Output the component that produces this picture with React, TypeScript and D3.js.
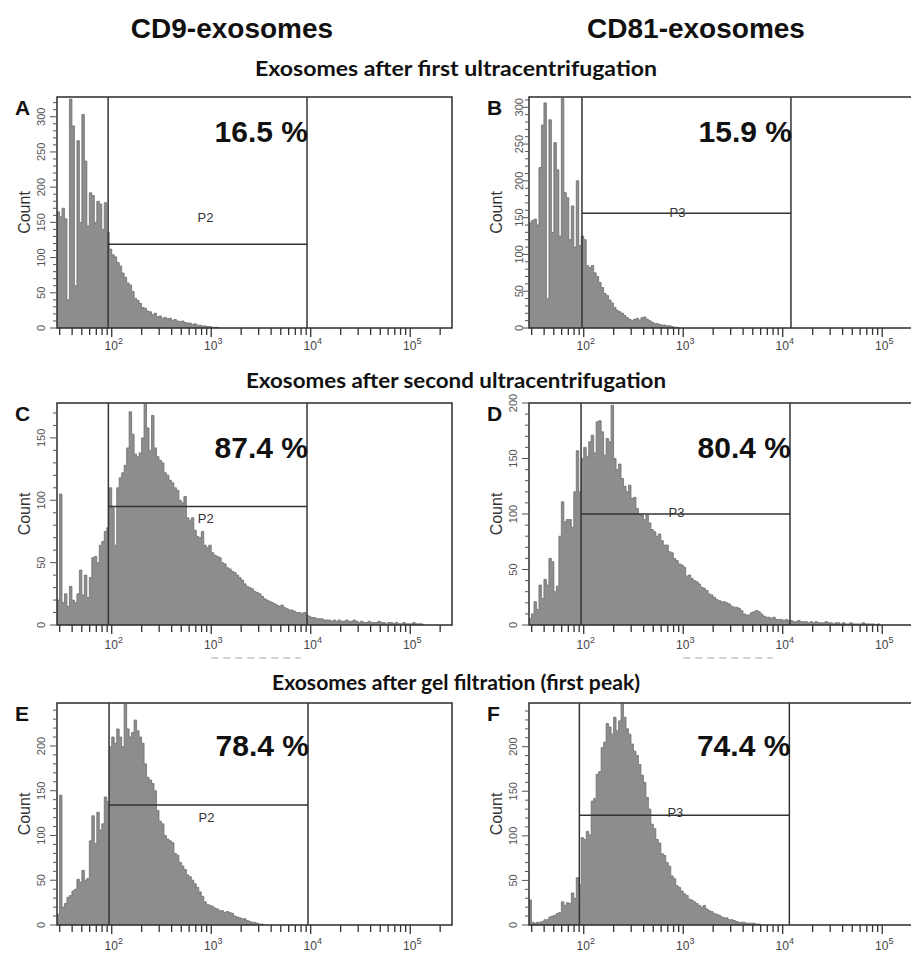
import * as d3 from "d3";

// histogram bins: log10 channel from LOG_MIN in BIN_STEP steps
const LOG_MIN = 1.45;
const LOG_MAX = 5.42;
const BIN_STEP = 0.025;

const A_COUNTS = [
  165, 158, 170, 155, 40, 325, 287, 60, 266, 150, 303, 237, 145, 192, 188, 150, 180, 176, 140, 178, 136,
  112, 104, 101, 93, 88, 78, 72, 64, 61, 52, 42, 39, 35, 29, 28, 24, 23, 19, 21, 16, 17, 14, 15, 13, 14,
  11, 12, 10, 9, 10, 8, 7, 7, 5, 6, 4, 4, 3, 3, 2, 2, 1, 1, 1,
];
const B_COUNTS = [
  143, 146, 148, 140, 218, 276, 306, 40, 283, 130, 252, 215, 125, 312, 184, 177, 120, 166, 110, 200, 112,
  125, 120, 85, 82, 85, 75, 70, 62, 55, 47, 44, 38, 34, 28, 24, 22, 20, 17, 14, 12, 10, 12, 13, 11, 14,
  15, 12, 10, 8, 6, 6, 5, 4, 4, 3, 3, 2, 1, 1,
];
const C_COUNTS = [
  20, 105, 18, 25, 15, 31, 20, 18, 25, 44, 24, 40, 22, 38, 54, 55, 50, 64, 67, 75,
  78, 110, 94, 64, 110, 118, 122, 128, 142, 171, 153, 137, 135, 138, 150, 177, 158, 140, 168, 142,
  135, 132, 130, 122, 120, 116, 114, 110, 108, 100, 98, 103, 86, 84, 86, 76, 71, 70, 75, 64,
  62, 64, 58, 56, 55, 54, 50, 49, 46, 45, 43, 42, 40, 38, 36, 33, 31, 30, 29, 27,
  26, 25, 23, 21, 20, 19, 18, 17, 16, 15, 16, 14, 13, 12, 12, 11, 10, 10, 9, 10,
  8, 7, 6, 6, 5, 5, 5, 4, 4, 4, 3, 4, 3, 4, 3, 3, 4, 3, 3, 4,
  3, 2, 3, 2, 2, 3, 2, 2, 2, 3, 2, 2, 1, 2, 2, 1, 2, 1, 1, 2, 1, 1, 1, 2, 1, 1, 1,
];
const D_COUNTS = [
  6, 10, 21, 14, 36, 24, 41, 36, 60, 57, 30, 35, 80, 111, 93, 95, 95, 88, 120, 157,
  120, 150, 160, 152, 165, 171, 155, 183, 184, 174, 153, 168, 165, 198, 150, 140, 145, 132, 125, 120,
  126, 114, 115, 105, 100, 99, 95, 99, 92, 86, 84, 80, 82, 76, 72, 72, 66, 65, 60, 58,
  55, 54, 52, 44, 45, 42, 40, 39, 37, 34, 33, 31, 28, 27, 25, 23, 22, 21, 21, 20,
  19, 17, 16, 16, 15, 13, 10, 9, 9, 11, 12, 13, 12, 10, 8, 7, 7, 6, 7, 5,
  5, 5, 4, 5, 4, 4, 3, 3, 4, 3, 3, 3, 2, 3, 2, 3, 2, 2, 2, 3,
  2, 2, 1, 2, 2, 1, 2, 1, 1, 2, 1, 1, 1, 1, 2, 1, 1, 1, 1, 0, 1,
];
const E_COUNTS = [
  12, 145, 20, 24, 31, 33, 38, 40, 51, 48, 61, 50, 52, 94, 122, 91, 126, 106, 113, 143,
  138, 199, 210, 203, 219, 210, 199, 247, 219, 210, 215, 229, 217, 210, 203, 180, 165, 162, 158, 150,
  128, 116, 113, 100, 96, 94, 92, 80, 78, 70, 66, 62, 56, 54, 50, 46, 42, 37, 32, 26,
  23, 22, 21, 19, 18, 16, 16, 14, 15, 14, 13, 10, 9, 8, 7, 7, 5, 4, 3, 3, 2, 1, 1,
];
const F_COUNTS = [
  28, 3, 2, 3, 3, 4, 6, 6, 9, 10, 11, 13, 14, 26, 22, 25, 24, 36, 30, 53,
  45, 98, 96, 105, 101, 139, 142, 169, 172, 199, 205, 226, 222, 214, 233, 218, 229, 248, 233, 220,
  214, 203, 195, 190, 180, 168, 160, 143, 130, 113, 108, 96, 92, 80, 78, 70, 66, 55, 52, 44,
  42, 38, 35, 33, 29, 28, 26, 24, 22, 20, 22, 18, 16, 15, 13, 12, 11, 9, 8, 8,
  6, 6, 5, 4, 3, 3, 3, 2, 2, 2, 2, 1, 1,
];

const PANEL_COUNTS = [A_COUNTS, B_COUNTS, C_COUNTS, D_COUNTS, E_COUNTS, F_COUNTS];
const PANEL_LETTERS = ["A", "B", "C", "D", "E", "F"];
const PERCENTS = ["16.5 %", "15.9 %", "87.4 %", "80.4 %", "78.4 %", "74.4 %"];
const GATE_NAMES = ["P2", "P3", "P2", "P3", "P2", "P3"];
const GATE_LOW = [92, 96, 92.5, 94, 94, 90.4];
const GATE_HIGH = [9180, 12100, 9180, 11830, 9390, 11660];
const GATE_LEVEL = [119, 156, 95, 100, 134, 123];
const Y_MAX = [328, 314, 178, 200, 248, 249];
const Y_LABEL_TOP = [300, 300, 150, 200, 200, 200];
const X_EXPONENTS = [2, 3, 4, 5];

const COLUMN_TITLES = ["CD9-exosomes", "CD81-exosomes"];
const ROW_TITLES = [
  "Exosomes after first ultracentrifugation",
  "Exosomes after second ultracentrifugation",
  "Exosomes after gel filtration (first peak)",
];

// layout
const W = 911;
const H = 954;
const PANEL_W = 395;
const COL_X = [57, 529];
const ROW_Y = [97, 403, 703];
const ROW_H = [231, 222, 222];
const PCT_DY = [45, 55, 53];
const XLAB_DY = [22, 24, 25];
const GATE_LABEL_DY = [-22, 4, 16, 3, 17, 2];
const YLAB_GAP = [16, 10, 16, 16, 16, 16];
const COL_TITLE_X = [232, 696];
const ROW_TITLE_Y = [76, 388, 690];
const ROW_TITLE_LEN = [402, 420, 368];

const ARIAL = "'Liberation Sans', Arial, sans-serif";
const CALIBRI = "Lato, 'Open Sans', sans-serif";
const FILL = "#8d8d8d";
const OUTLINE = "#6f6f6f";

function Panel({ idx }: { idx: number }) {
  const col = idx % 2;
  const row = Math.floor(idx / 2);
  const x0 = COL_X[col];
  const top = ROW_Y[row];
  const h = ROW_H[row];
  const bottom = top + h;
  const counts = PANEL_COUNTS[idx];

  const x = d3.scaleLog().domain([10 ** LOG_MIN, 10 ** LOG_MAX]).range([x0, x0 + PANEL_W]);
  const y = d3.scaleLinear().domain([0, Y_MAX[idx]]).range([bottom, top]);

  const pts: [number, number][] = counts.map((c, k) => [10 ** (LOG_MIN + k * BIN_STEP), c]);
  pts.push([10 ** (LOG_MIN + counts.length * BIN_STEP), 0]);

  const area = d3
    .area<[number, number]>()
    .x((d) => x(d[0]))
    .y0(y(0))
    .y1((d) => y(d[1]))
    .curve(d3.curveStepAfter);
  const line = d3
    .line<[number, number]>()
    .x((d) => x(d[0]))
    .y((d) => y(d[1]))
    .curve(d3.curveStepAfter);

  const xTicks = x.ticks().filter((t) => t >= 10 ** LOG_MIN && t <= 10 ** LOG_MAX);
  const yTicks = d3.range(0, Y_MAX[idx] + 0.1, 10);
  const yLabels = d3.range(0, Y_LABEL_TOP[idx] + 1, 50);

  const gx1 = x(GATE_LOW[idx]);
  const gx2 = x(GATE_HIGH[idx]);
  const gy = y(GATE_LEVEL[idx]);
  const clipId = `clip-${idx}`;

  return (
    <g>
      <defs>
        <clipPath id={clipId}>
          <rect x={x0} y={top} width={PANEL_W} height={h} />
        </clipPath>
      </defs>
      <g clipPath={`url(#${clipId})`}>
        <path d={area(pts) ?? ""} fill={FILL} />
        <path d={line(pts) ?? ""} fill="none" stroke={OUTLINE} strokeWidth={0.8} />
      </g>

      {/* frame */}
      <rect x={x0} y={top} width={PANEL_W} height={h} fill="none" stroke="#2b2b2b" strokeWidth={1.5} />

      {/* gate */}
      <line x1={gx1} x2={gx1} y1={top} y2={bottom} stroke="#333" strokeWidth={1.5} />
      <line x1={gx2} x2={gx2} y1={top} y2={bottom} stroke="#333" strokeWidth={1.5} />
      <line x1={gx1} x2={gx2} y1={gy} y2={gy} stroke="#333" strokeWidth={1.5} />
      <text
        x={(gx1 + gx2) / 2 - (col ? 9 : 2)}
        y={gy + GATE_LABEL_DY[idx]}
        textAnchor="middle"
        fontFamily={ARIAL}
        fontSize={13}
        fill="#333"
      >
        {GATE_NAMES[idx]}
      </text>

      {/* percentage */}
      <text
        x={gx2 + 1}
        y={top + PCT_DY[row]}
        textAnchor="end"
        fontFamily={ARIAL}
        fontWeight="bold"
        fontSize={30}
        fill="#111"
      >
        {PERCENTS[idx]}
      </text>

      {/* x axis ticks */}
      {xTicks.map((t) => {
        const major = Math.abs(Math.log10(t) - Math.round(Math.log10(t))) < 1e-9;
        return (
          <line
            key={t}
            x1={x(t)}
            x2={x(t)}
            y1={bottom}
            y2={bottom + (major ? 9 : 7)}
            stroke="#333"
            strokeWidth={1.3}
          />
        );
      })}
      {X_EXPONENTS.map((e) => (
        <text
          key={e}
          x={x(10 ** e) + 2}
          y={bottom + XLAB_DY[row]}
          textAnchor="middle"
          fontFamily={ARIAL}
          fontSize={12}
          fill="#444"
        >
          10
          <tspan dy={-6} fontSize={9}>
            {e}
          </tspan>
        </text>
      ))}

      {/* y axis ticks */}
      {yTicks.map((t) => (
        <line
          key={t}
          x1={x0}
          x2={x0 - (t % 50 === 0 ? 7 : 4)}
          y1={y(t)}
          y2={y(t)}
          stroke="#555"
          strokeWidth={1}
        />
      ))}
      {yLabels.map((t) => (
        <text
          key={t}
          transform={`translate(${x0 - YLAB_GAP[idx] + 4},${y(t)}) rotate(-90)`}
          textAnchor="middle"
          fontFamily={ARIAL}
          fontSize={11}
          fill="#555"
        >
          {t}
        </text>
      ))}
      <text
        transform={`translate(${x0 - 27},${(top + bottom) / 2}) rotate(-90)`}
        textAnchor="middle"
        fontFamily={ARIAL}
        fontSize={16}
        fill="#333"
      >
        Count
      </text>

      {/* panel letter */}
      <text x={x0 - 42} y={top + 18} fontFamily={ARIAL} fontWeight="bold" fontSize={21} fill="#111">
        {PANEL_LETTERS[idx]}
      </text>

      {/* cut-off axis title remnant under the middle row */}
      {row === 1 && (
        <line
          x1={x(10 ** 3.0)}
          x2={x(10 ** 3.9)}
          y1={bottom + 33}
          y2={bottom + 33}
          stroke="#c4c4c4"
          strokeWidth={1.5}
          strokeDasharray="7,5"
        />
      )}
    </g>
  );
}

export default function App() {
  return (
    <svg
      width={W}
      height={H}
      viewBox={`0 0 ${W} ${H}`}
      style={{ position: "absolute", left: 0, top: 0, background: "#fff" }}
    >
      <rect width={W} height={H} fill="#fff" />
      {COLUMN_TITLES.map((t, i) => (
        <text
          key={t}
          x={COL_TITLE_X[i]}
          y={38}
          textAnchor="middle"
          fontFamily={ARIAL}
          fontWeight="bold"
          fontSize={28}
          fill="#111"
        >
          {t}
        </text>
      ))}
      {ROW_TITLES.map((t, i) => (
        <text
          key={t}
          x={456}
          y={ROW_TITLE_Y[i]}
          textAnchor="middle"
          fontFamily={CALIBRI}
          fontWeight="bold"
          fontSize={20}
          textLength={ROW_TITLE_LEN[i]}
          lengthAdjust="spacingAndGlyphs"
          fill="#111"
        >
          {t}
        </text>
      ))}
      {PANEL_COUNTS.map((_, i) => (
        <Panel key={i} idx={i} />
      ))}
    </svg>
  );
}
